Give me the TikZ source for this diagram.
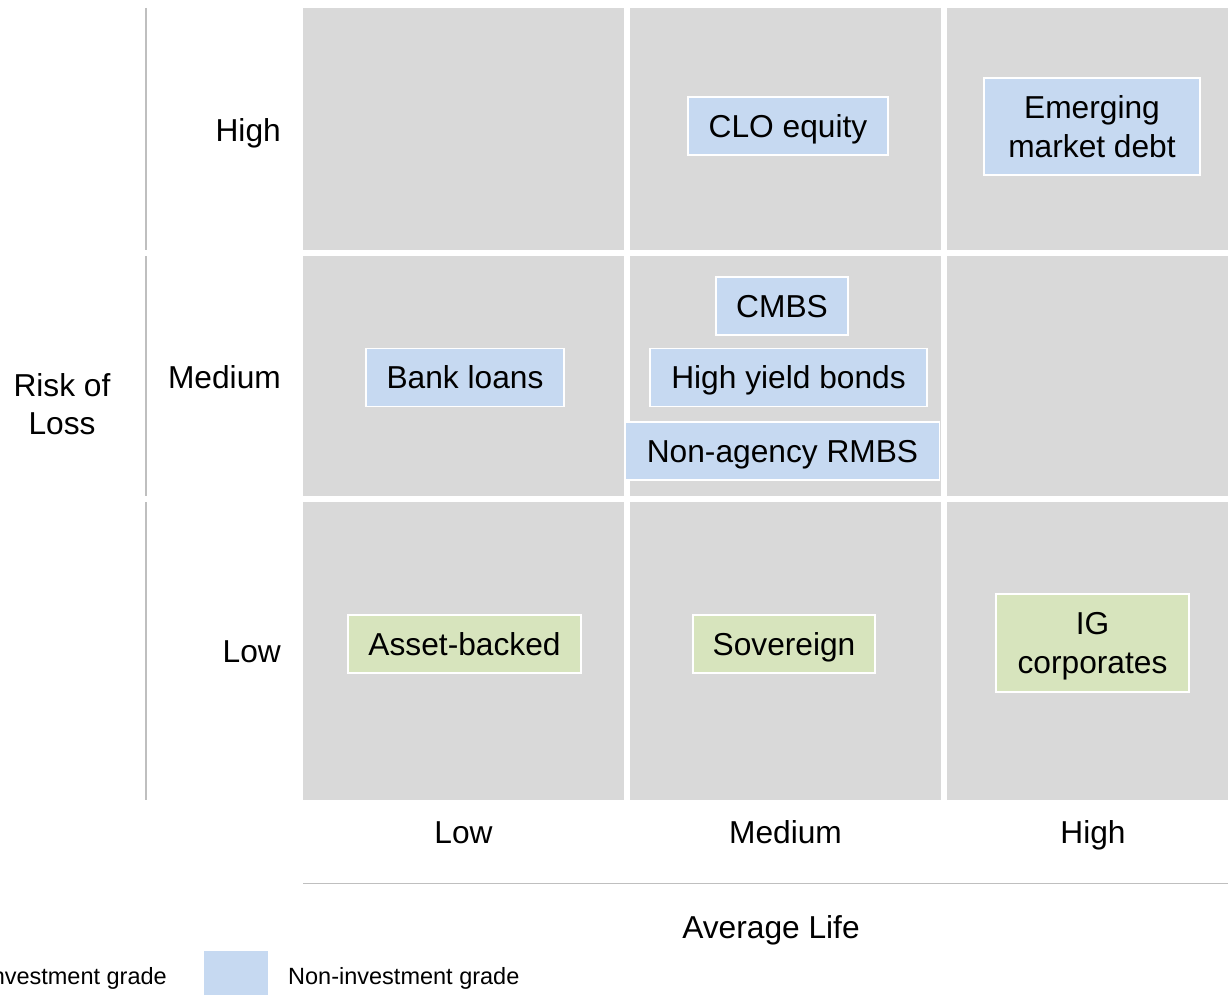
\documentclass[tikz,border=0pt]{standalone}
\usepackage{fontspec}
\setmainfont{Liberation Sans}
\usepackage{tikz}
\usetikzlibrary{positioning}
\definecolor{cellgray}{HTML}{D9D9D9}
\definecolor{nonigblue}{HTML}{C6D9F1}
\definecolor{iggreen}{HTML}{D7E4BD}
\definecolor{axisgray}{HTML}{BFBFBF}
\tikzstyle{cell} = [
    rectangle, fill=cellgray,
    inner sep=0pt, outer sep=0pt
]
\tikzstyle{asset} = [
    rectangle, draw=white, line width=1.5pt,
    inner sep=0pt, minimum height=58pt,
    font=\fontsize{31.7}{38.5}\selectfont
]
\tikzstyle{oneline} = [text height=25.4pt, text depth=2.7pt] % cap centred
\tikzstyle{twoline} = [align=center, text depth=0pt]
\tikzstyle{axislabel} = [
    inner sep=0pt, font=\fontsize{31.7}{38.5}\selectfont,
    text height=25.4pt, text depth=2.7pt
]
\tikzstyle{axisline} = [draw=axisgray, line width=1.5pt]
\tikzstyle{legendtext} = [
    inner sep=0pt, font=\fontsize{23.5}{28}\selectfont,
    text height=18.8pt, text depth=2pt
]

\begin{document}
\begin{tikzpicture}[x=1pt, y=-1pt]
        \useasboundingbox (0,0) rectangle (1228,995);

        % Grid: rows = risk of loss, columns = average life
        \node[cell, anchor=north west, minimum width=321pt, minimum height=242pt] (hl) at (303,8) {};
        \node[cell, minimum width=311pt, minimum height=242pt] (hm) [right=6pt of hl] {};
        \node[cell, minimum width=292pt, minimum height=242pt] (hh) [right=6pt of hm] {};

        \node[cell, minimum width=321pt, minimum height=240pt] (ml) [below=6pt of hl] {};
        \node[cell, minimum width=311pt, minimum height=240pt] (mm) [below=6pt of hm] {};
        \node[cell, minimum width=292pt, minimum height=240pt] (mh) [below=6pt of hh] {};

        \node[cell, minimum width=321pt, minimum height=298pt] (ll) [below=6pt of ml] {};
        \node[cell, minimum width=311pt, minimum height=298pt] (lm) [below=6pt of mm] {};
        \node[cell, minimum width=292pt, minimum height=298pt] (lh) [below=6pt of mh] {};

        % Non-investment grade assets
        \node[asset, oneline, fill=nonigblue, minimum width=200pt] (clo) at (788,126) {CLO equity};
        \node[asset, twoline, fill=nonigblue, minimum width=216pt, minimum height=97pt] (emd) at (1092,126.5) {Emerging\\market debt};
        \node[asset, oneline, fill=nonigblue, minimum width=132pt] (cmbs) at (782,306) {CMBS};
        \node[asset, oneline, fill=nonigblue, minimum width=277pt] (hyb) at (788.5,377.5) {High yield bonds};
        \node[asset, oneline, fill=nonigblue, minimum width=314pt] (rmbs) at (782.5,451) {Non-agency RMBS};
        \node[asset, oneline, fill=nonigblue, minimum width=198pt] (loans) at (465,377.5) {Bank loans};

        % Investment grade assets
        \node[asset, oneline, fill=iggreen, minimum width=233pt] (abs) at (464.5,644) {Asset-backed};
        \node[asset, oneline, fill=iggreen, minimum width=182pt] (sov) at (784,644) {Sovereign};
        \node[asset, twoline, fill=iggreen, minimum width=193pt, minimum height=98pt] (igc) at (1092.5,643) {IG\\corporates};

        % Risk of loss axis
        \coordinate (riskx) at (146,0);
        \draw[axisline] (riskx |- hl.north) -- (riskx |- hl.south);
        \draw[axisline] (riskx |- ml.north) -- (riskx |- ml.south);
        \draw[axisline] (riskx |- ll.north) -- (riskx |- ll.south);
        \node[axislabel, yshift=-1pt] (rhigh) [left=22pt of hl] {High};
        \node[axislabel, yshift=-1pt] (rmed) [left=22pt of ml] {Medium};
        \node[axislabel] (rlow) [left=22pt of ll] {Low};
        \node[axislabel, align=center, text height=, text depth=0pt] (risk) at (62,404) {Risk of\\Loss};

        % Average life axis
        \node[axislabel] (alow) [below=17.5pt of ll] {Low};
        \node[axislabel] (amed) [below=17.5pt of lm] {Medium};
        \node[axislabel] (ahigh) [below=17.5pt of lh] {High};
        \coordinate (lifeleft) at ([yshift=-83.5pt]ll.south west);
        \coordinate (liferight) at ([yshift=-83.5pt]lh.south east);
        \draw[axisline] (lifeleft) -- coordinate (lifemid) (liferight);
        \node[axislabel] (life) [below=29pt of lifemid] {Average Life};

        % Legend
        \node[legendtext, anchor=east] (igkey) at (167,976) {Investment grade};
        \node[rectangle, fill=nonigblue, anchor=north west, minimum width=64pt, minimum height=48pt] (nonigbox) at (204,951) {};
        \node[legendtext, anchor=west] (nonigkey) at (288,976) {Non-investment grade};

    \end{tikzpicture}
\end{document}
